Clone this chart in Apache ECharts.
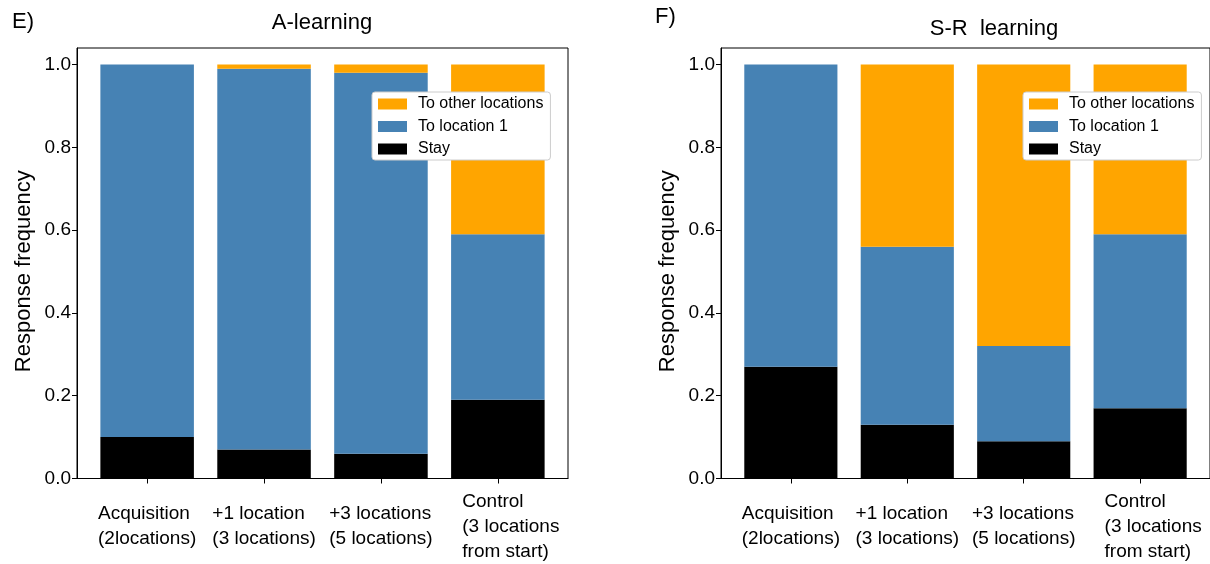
<!DOCTYPE html>
<html>
<head>
<meta charset="utf-8">
<script src="https://cdn.jsdelivr.net/npm/echarts@6/dist/echarts.min.js"></script>
<style>
  html, body { margin: 0; padding: 0; background: #fff; }
  #chart { width: 1210px; height: 564px; }
</style>
</head>
<body>
<div id="chart"></div>
<script>
// Stage names shown under each bar (same order in both panels)
const categories = [
  'Acquisition\n(2locations)',
  '+1 location\n(3 locations)',
  '+3 locations\n(5 locations)',
  'Control\n(3 locations\nfrom start)'
];

// Response frequencies, A-learning panel
const aStay = [0.10, 0.07, 0.06, 0.19];
const aToLoc1 = [0.90, 0.92, 0.92, 0.40];
const aToOther = [0.00, 0.01, 0.02, 0.41];

// Response frequencies, S-R learning panel
const srStay = [0.27, 0.13, 0.09, 0.17];
const srToLoc1 = [0.73, 0.43, 0.23, 0.42];
const srToOther = [0.00, 0.44, 0.68, 0.41];

const yTicks = [0, 0.2, 0.4, 0.6, 0.8, 1.0];
const legendOrder = ['To other locations', 'To location 1', 'Stay'];
const colors = { 'Stay': '#000000', 'To location 1': '#4682B4', 'To other locations': '#FFA500' };

const FONT = 'Liberation Sans, Arial, sans-serif';
const catIndex = categories.map((_, i) => i);

function xAxisFor(gridIndex) {
  return {
    type: 'value', gridIndex: gridIndex, min: -0.6, max: 3.6,
    splitLine: { show: false },
    axisLine: { show: true, onZero: false, lineStyle: { color: '#000', width: 1 } },
    axisTick: { show: true, customValues: catIndex, length: 5, lineStyle: { color: '#000' } },
    axisLabel: {
      customValues: catIndex,
      margin: 48,
      verticalAlign: 'middle',
      align: 'center',
      fontFamily: FONT, fontSize: 19, lineHeight: 25, color: '#000',
      formatter: function (v) {
        const i = Math.round(v);
        const style = i === categories.length - 1 ? 'shift' : 'line';
        return categories[i].split('\n').map(s => '{' + style + '|' + s + '}').join('\n');
      },
      rich: {
        line: { align: 'left', fontFamily: FONT, fontSize: 19, lineHeight: 25, color: '#000' },
        shift: { align: 'left', fontFamily: FONT, fontSize: 19, lineHeight: 25, color: '#000', padding: [0, 0, 0, 26] }
      }
    }
  };
}

function yAxisFor(gridIndex) {
  return {
    type: 'value', gridIndex: gridIndex, min: 0, max: 1.04,
    name: 'Response frequency', nameLocation: 'middle', nameGap: 42,
    nameTextStyle: { fontFamily: FONT, fontSize: 22, color: '#000', padding: [0, 16, 0, 0] },
    splitLine: { show: false },
    axisLine: { show: true, onZero: false, lineStyle: { color: '#000', width: 1 } },
    axisTick: { show: true, customValues: yTicks, length: 5, lineStyle: { color: '#000' } },
    axisLabel: {
      customValues: yTicks, margin: 6,
      fontFamily: FONT, fontSize: 19, color: '#000',
      formatter: v => v.toFixed(1)
    }
  };
}

// Each datum is [frequency, stage index]; the frequency comes first so that
// it is the dimension the stack accumulates, and the stage index drives x.
function barSeries(name, values, axisIndex, stackId) {
  return {
    type: 'bar', name: name, stack: stackId,
    xAxisIndex: axisIndex, yAxisIndex: axisIndex,
    barWidth: '80%',
    encode: { x: 1, y: 0 },
    itemStyle: { color: colors[name] },
    emphasis: { disabled: true },
    data: values.map((v, i) => [v, i])
  };
}

function legendFor(left) {
  return {
    orient: 'vertical', left: left, top: 92,
    data: legendOrder,
    icon: 'rect', itemWidth: 29, itemHeight: 11, itemGap: 6.5,
    padding: [4, 7, 3, 6],
    backgroundColor: '#fff', borderColor: '#cccccc', borderWidth: 1, borderRadius: 3,
    selectedMode: false,
    textStyle: { fontFamily: FONT, fontSize: 16, lineHeight: 15, color: '#000', padding: [0, 0, 0, 6] }
  };
}

const titleStyle = { fontFamily: FONT, fontSize: 22, fontWeight: 'normal', color: '#000', lineHeight: 22 };

const option = {
  animation: false,
  backgroundColor: '#fff',
  title: [
    { text: 'E)', left: 12, top: 11, textStyle: titleStyle, padding: 0 },
    { text: 'A-learning', left: 322, top: 12, textAlign: 'center', textStyle: titleStyle, padding: 0 },
    { text: 'F)', left: 655, top: 6, textStyle: titleStyle, padding: 0 },
    { text: 'S-R  learning', left: 994, top: 18, textAlign: 'center', textStyle: titleStyle, padding: 0 }
  ],
  legend: [legendFor(372), legendFor(1023)],
  grid: [
    { left: 77, top: 48, width: 491, height: 432, show: true, borderColor: '#000', borderWidth: 1, backgroundColor: 'transparent' },
    { left: 721, top: 48, width: 491, height: 432, show: true, borderColor: '#000', borderWidth: 1, backgroundColor: 'transparent' }
  ],
  xAxis: [xAxisFor(0), xAxisFor(1)],
  yAxis: [yAxisFor(0), yAxisFor(1)],
  series: [
    barSeries('Stay', aStay, 0, 'a'),
    barSeries('To location 1', aToLoc1, 0, 'a'),
    barSeries('To other locations', aToOther, 0, 'a'),
    barSeries('Stay', srStay, 1, 'sr'),
    barSeries('To location 1', srToLoc1, 1, 'sr'),
    barSeries('To other locations', srToOther, 1, 'sr')
  ]
};

const chart = echarts.init(document.getElementById('chart'), null, { renderer: 'canvas' });
chart.setOption(option);
</script>
</body>
</html>
